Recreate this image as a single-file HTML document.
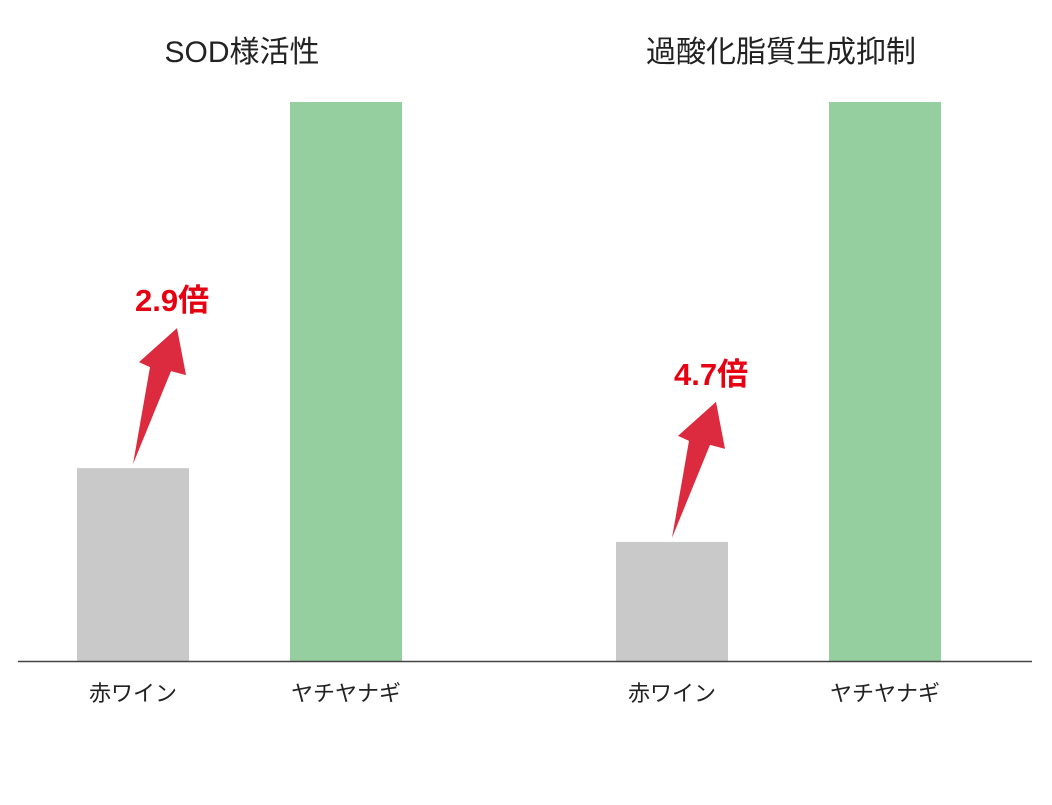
<!DOCTYPE html>
<html><head><meta charset="utf-8"><style>
body{margin:0;background:#fff;width:1052px;height:800px;overflow:hidden}
svg text{font-family:"Liberation Sans","Noto Sans CJK JP",sans-serif}
</style></head><body>
<svg id="c" width="1052" height="800"></svg>
<script>
const groups=["SOD様活性","過酸化脂質生成抑制"];
const categories=["赤ワイン","ヤチヤナギ"];
const redWine=[0.345,0.213];
const yachiyanagi=[1,1];
const ratioLabels=["2.9倍","4.7倍"];
const svgEl=document.getElementById('c');
const NS='http://www.w3.org/2000/svg';
const baseY=661,plotTop=102;
const yScale=v=>baseY-v*(baseY-plotTop);
const groupX=[77,616];
function mk(t,a,txt){const e=document.createElementNS(NS,t);for(const k in a)e.setAttribute(k,a[k]);if(txt!==undefined)e.textContent=txt;svgEl.appendChild(e);return e;}
groups.forEach((g,i)=>{
  const gx=groupX[i];
  const t=mk('text',{x:gx+165,y:62,'font-size':30,'text-anchor':'middle',fill:'#222'},g);
  
  
  const b1=mk('rect',{x:gx,y:yScale(redWine[i]),width:112,height:baseY-yScale(redWine[i]),fill:'#c9c9c9'});
  
  
  const b2=mk('rect',{x:gx+213,y:yScale(yachiyanagi[i]),width:112,height:baseY-yScale(yachiyanagi[i]),fill:'#95cf9f'});
  
  
  [0,1].forEach(j=>{
    const l=mk('text',{x:gx+56+j*213,y:701,'font-size':22,'text-anchor':'middle',fill:'#222'},categories[j]);
    
    
  });
  const ty=yScale(redWine[i])-4, ax=gx+56;
  const pts=[[0,0],[17,-97],[6,-102],[44,-136],[53,-89],[38,-93]].map(p=>(ax+p[0])+','+(ty+p[1])).join(' ');
  const a=mk('polygon',{points:pts,fill:'#dc2a3f'});
  
  
  const r=mk('text',{x:ax+2,y:ty-153,'font-size':31,'font-weight':'bold',fill:'#e60012'},ratioLabels[i]);
  
  
});
const axl=mk('line',{x1:18,x2:1032,y1:baseY+0.5,y2:baseY+0.5,stroke:'#444','stroke-width':1.5});


</script>
</body></html>
